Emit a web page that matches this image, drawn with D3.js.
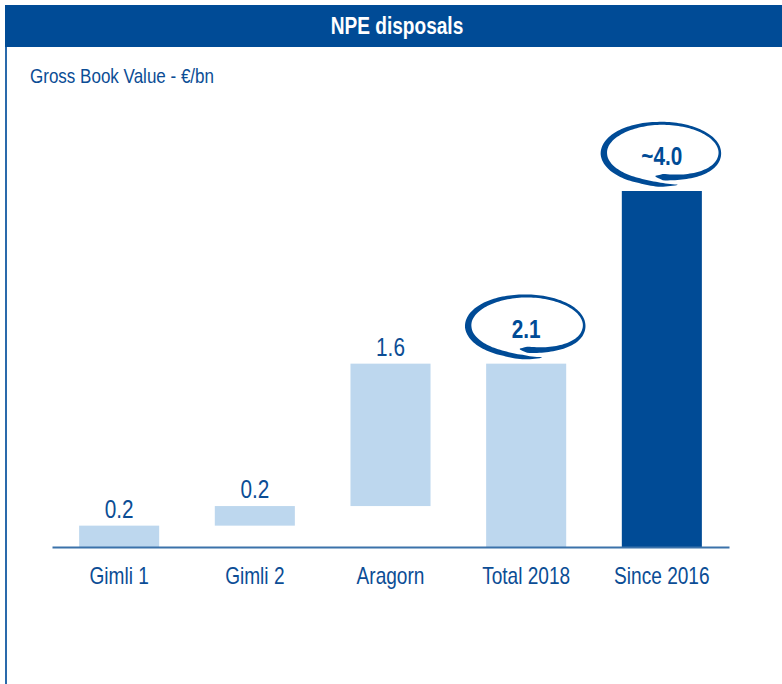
<!DOCTYPE html>
<html>
<head>
<meta charset="utf-8">
<script src="https://cdn.jsdelivr.net/npm/d3@7"></script>
<style>
  body { margin: 0; background: #fff; }
  text { font-family: "Liberation Sans", Arial, sans-serif; }
</style>
</head>
<body>
<script>
var categories = ["Gimli 1", "Gimli 2", "Aragorn", "Total 2018", "Since 2016"];
var values = [0.24, 0.22, 1.6, 2.06, 4.0];
var labels = ["0.2", "0.2", "1.6", "2.1", "~4.0"];
var kinds = ["step", "step", "step", "total", "total"];
var bubbles = [false, false, false, true, true];

var width = 782, height = 684;
var dark = "#004b96", light = "#bdd7ee", textCol = "#0b4d95";
var narrow = 0.83; // squeeze Liberation Sans to look like Arial Narrow

// waterfall: steps stack on previous, totals start from zero
var run = 0;
var data = categories.map(function(c, i) {
  var base = kinds[i] == "step" ? run : 0;
  if (kinds[i] == "step") run += values[i];
  return {cat: c, base: base, top: base + values[i], label: labels[i], kind: kinds[i], bubble: bubbles[i], last: i == categories.length - 1};
});

var svg = d3.select("body").append("svg")
  .attr("width", width)
  .attr("height", height);

function place(px, py) {
  return "translate(" + px + "," + py + ") scale(" + narrow + ",1)";
}

// header band
svg.append("rect").attr("x", 5).attr("y", 5).attr("width", width - 5).attr("height", 42).attr("fill", dark);
svg.append("text").attr("transform", place(397, 34))
  .attr("text-anchor", "middle").attr("fill", "#fff")
  .style("font-size", "23px").style("font-weight", "bold")
  .text("NPE disposals");
svg.append("line").attr("x1", 6).attr("x2", 6).attr("y1", 47).attr("y2", height)
  .attr("stroke", "#2a6aab").attr("stroke-width", 2);

svg.append("text").attr("transform", place(30, 83))
  .attr("fill", textCol).style("font-size", "20.5px")
  .text("Gross Book Value - \u20ac/bn");

var x = d3.scaleBand()
  .domain(categories)
  .range([52, 729])
  .paddingInner(0.41)
  .paddingOuter(0.2);

var y = d3.scaleLinear()
  .domain([0, 4])
  .range([547, 191]);

svg.selectAll(".bar")
  .data(data)
  .enter()
  .append("rect")
    .attr("class", "bar")
    .attr("x", function(d){ return x(d.cat); })
    .attr("width", x.bandwidth())
    .attr("y", function(d){ return y(d.top); })
    .attr("height", function(d){ return y(d.base) - y(d.top); })
    .attr("fill", function(d){ return d.last ? dark : light; });

var xAxis = d3.axisBottom(x).tickSize(0).tickPadding(21);
var gx = svg.append("g").attr("transform", "translate(0," + y(0) + ")").call(xAxis);
gx.select(".domain").attr("stroke", "#3b72aa").attr("stroke-width", 2);
gx.selectAll(".tick text")
  .attr("fill", textCol)
  .attr("transform", "scale(" + narrow + ",1)")
  .style("font-size", "23px")
  .style("font-family", "'Liberation Sans', Arial, sans-serif");

// plain value labels
svg.selectAll(".val")
  .data(data.filter(function(d){ return !d.bubble; }))
  .enter()
  .append("text")
    .attr("class", "val")
    .attr("transform", function(d){ return place(x(d.cat) + x.bandwidth() / 2, y(d.top) - 8); })
    .attr("text-anchor", "middle")
    .attr("fill", textCol)
    .style("font-size", "25px")
    .text(function(d){ return d.label; });

// hand-drawn looking swoosh: an open spiral with varying stroke width,
// starting at the little pointer and ending in a thin tail underneath
var rx = 58;
var t0 = 1.68, t1 = 1.3 - 2 * Math.PI;
var ryAt = d3.scaleLinear().domain([0, 0.2, 0.9, 1]).range([23.5, 29.5, 30, 33]).clamp(true);
var wAt = d3.scaleLinear().domain([0, 0.02, 0.07, 0.26, 0.5, 0.73, 0.95, 1]).range([1, 6.5, 5, 2.5, 3, 6.5, 4.5, 0.6]);
function swoosh() {
  var outer = [], inner = [];
  d3.range(161).forEach(function(i) {
    var s = i / 160, t = t0 + (t1 - t0) * s;
    var ry = ryAt(s), w = wAt(s) / 2;
    var px = rx * Math.cos(t), py = ry * Math.sin(t);
    var nx = ry * Math.cos(t), ny = rx * Math.sin(t);
    var len = Math.sqrt(nx * nx + ny * ny);
    nx /= len; ny /= len;
    outer.push([px + nx * w, py + ny * w]);
    inner.push([px - nx * w, py - ny * w]);
  });
  return d3.line()(outer.concat(inner.reverse())) + "Z";
}

var bub = svg.selectAll(".bubble")
  .data(data.filter(function(d){ return d.bubble; }))
  .enter()
  .append("g")
    .attr("class", "bubble")
    .attr("transform", function(d){
      return "translate(" + (x(d.cat) + x.bandwidth() / 2) + "," + (y(d.top) - 38) + ")";
    });

bub.append("path")
  .attr("d", swoosh())
  .attr("fill", dark);

bub.append("text")
  .attr("transform", place(0, 12))
  .attr("text-anchor", "middle")
  .attr("fill", dark)
  .style("font-size", "25px")
  .style("font-weight", "bold")
  .text(function(d){ return d.label; });
</script>
</body>
</html>
